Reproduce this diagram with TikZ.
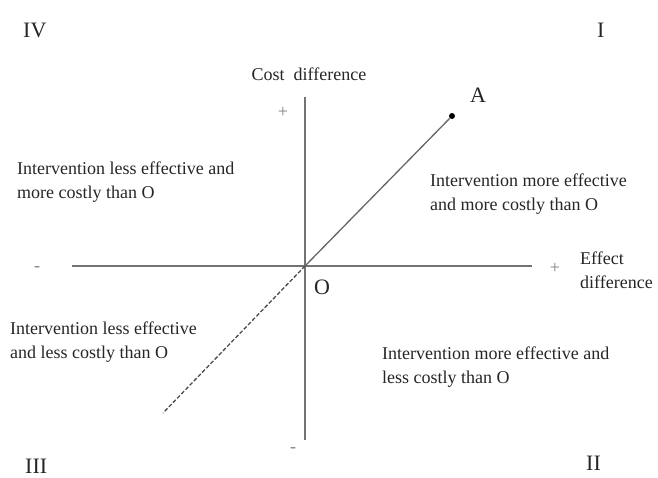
\documentclass[tikz,border=0pt]{standalone}
\usepackage{fontspec}
\setmainfont{Liberation Serif}
\begin{document}
\begin{tikzpicture}[x=1pt,y=-1pt,
  axis/.style={draw=black!55,line width=1.3pt},
  body/.style={font=\fontsize{18}{24}\selectfont,align=left,inner sep=0pt,text=black!85},
  big/.style={font=\fontsize{22}{26}\selectfont,inner sep=0pt,text=black!85},
  sign/.style={font=\fontsize{18}{20}\selectfont,inner sep=0pt,text=black!50}]
\useasboundingbox (0,0) rectangle (658,477);
\coordinate (O) at (305,266);
\coordinate (vtop) at (305,97);
\coordinate (vbot) at (305,440);
\coordinate (hl) at (72,266);
\coordinate (hr) at (532,266);
\coordinate (dend) at (163,413);
\draw[axis] (vtop) -- (vbot);
\draw[axis] (hl) -- (hr);
\node[circle,fill=black,inner sep=0pt,minimum size=6pt] (A) at (452,116) {};
\draw[draw=black!60,line width=1.3pt] (O) -- (A);
\draw[draw=black!70,line width=1.3pt,dash pattern=on 4pt off 2pt] (O) -- (dend);
\node[big,anchor=base west] (Olab) at (314,294) {O};
\node[big,anchor=base west] (Alab) at (470,102) {A};
\node[big,anchor=base west] (IV) at (23,37) {IV};
\node[big,anchor=base west] (I) at (597,37) {I};
\node[big,anchor=base west] (III) at (25,473) {III};
\node[big,anchor=base west] (II) at (586,470) {II};
\node[sign] (pt) at (283,112) {+};
\node[sign] (pr) at (555,268) {+};
\node[sign] (ml) at (37,269) {-};
\node[sign] (mb) at (293,450) {-};
\node[body,anchor=base] (cost) at (309,80) {Cost\ \ difference};
\node[body,anchor=north west] (eff) at (580,252) {Effect\\difference};
\node[body,anchor=north west] (q4) at (17,162) {Intervention less effective and\\more costly than O};
\node[body,anchor=north west] (q1) at (430,174) {Intervention more effective\\and more costly than O};
\node[body,anchor=north west] (q3) at (10,322) {Intervention less effective\\and less costly than O};
\node[body,anchor=north west] (q2) at (382,347) {Intervention more effective and\\less costly than O};
\end{tikzpicture}
\end{document}
